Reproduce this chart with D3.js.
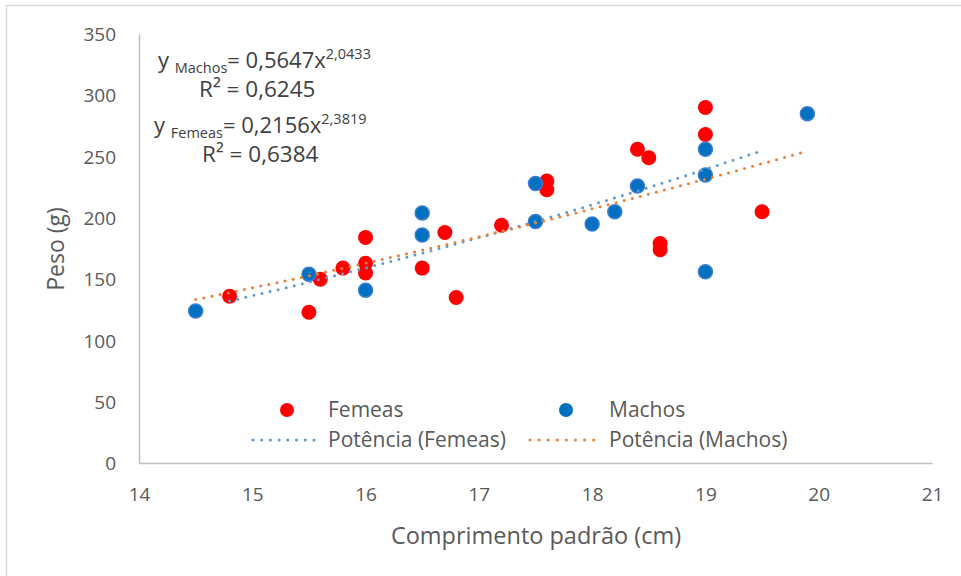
<!DOCTYPE html>
<html><head><meta charset="utf-8">
<script src="https://cdn.jsdelivr.net/npm/d3@7"></script>
<style>body{margin:0;background:#fff}svg{display:block}text{font-family:"Open Sans",sans-serif}</style>
</head><body>
<svg id="c" width="961" height="576"></svg>
<script>
// Data
const femeasX = [14.8,15.5,15.6,15.8,16.0,16.0,16.0,16.5,16.7,16.8,17.2,17.6,17.6,18.4,18.5,18.6,18.6,19.0,19.0,19.5];
const femeasY = [136,123,150,159,184,163,155,159,188,135,194,230,223,256,249,179,174,290,268,205];
const machosX = [14.5,15.5,16.0,16.5,16.5,17.5,17.5,18.0,18.2,18.4,19.0,19.0,19.0,19.9];
const machosY = [124,154,141,204,186,228,197,195,205,226,256,235,156,285];
const xTicks = [14,15,16,17,18,19,20,21];
const yTicks = [0,50,100,150,200,250,300,350];
// Power trendlines y = a x^b (from equations shown)
const trendNames = ["Femeas","Machos"];
const trendA = [0.2156,0.5647];
const trendB = [2.3819,2.0433];
const trendR2 = ["0,6384","0,6245"];

const svg = d3.select("#c");
const x = d3.scaleLinear().domain([14,21]).range([139,932]);
const y = d3.scaleLinear().domain([0,350]).range([463,34]);

// chart border
svg.append("rect").attr("x",6.5).attr("y",5.5).attr("width",1000).attr("height",1000)
  .attr("fill","none").attr("stroke","#d9d9d9").attr("stroke-width",1.5);

// axes
const xAxis = svg.append("g").attr("transform","translate(0,463)")
  .call(d3.axisBottom(x).tickValues(xTicks).tickFormat(d3.format("d")).tickSize(0).tickPadding(25));
const yAxis = svg.append("g").attr("transform","translate(139,0)")
  .call(d3.axisLeft(y).tickValues(yTicks).tickSize(0).tickPadding(23));
[xAxis,yAxis].forEach(g=>{
  g.select(".domain").attr("stroke","#bfbfbf").attr("stroke-width",1.5);
  g.selectAll("text").attr("fill","#595959").style("font-size","19px").style("font-family","Open Sans");
});
yAxis.selectAll("text").attr("dy","0.35em");
xAxis.selectAll("text").attr("dy","0.7em");

// axis titles
svg.append("text").attr("x",536).attr("y",544).attr("text-anchor","middle")
  .attr("fill","#595959").style("font-size","23.5px").text("Comprimento padrão (cm)");
svg.append("text").attr("transform","translate(64,249) rotate(-90)").attr("text-anchor","middle")
  .attr("fill","#595959").style("font-size","23px").text("Peso (g)");

// points: Femeas then Machos
const fem = femeasX.map((v,i)=>({x:v,y:femeasY[i]}));
const mac = machosX.map((v,i)=>({x:v,y:machosY[i]}));
svg.append("g").selectAll("circle").data(fem).join("circle")
  .attr("cx",d=>x(d.x)).attr("cy",d=>y(d.y)).attr("r",7.5).attr("fill","#ff0000");
svg.append("g").selectAll("circle").data(mac).join("circle")
  .attr("cx",d=>x(d.x)).attr("cy",d=>y(d.y)).attr("r",7).attr("fill","#0070c0")
  .attr("stroke","#3d7ccc").attr("stroke-width",1.5);

// trendlines
const trendColors = ["#5b9bd5","#ed7d31"];
const ranges = [d3.extent(femeasX), d3.extent(machosX)];
const line = d3.line().x(d=>x(d[0])).y(d=>y(d[1]));
trendNames.forEach((n,i)=>{
  const [lo,hi] = ranges[i];
  const pts = d3.range(0,101).map(k=>{const xv=lo+(hi-lo)*k/100; return [xv, trendA[i]*Math.pow(xv,trendB[i])];});
  svg.append("path").datum(pts).attr("d",line).attr("fill","none")
    .attr("stroke",trendColors[i]).attr("stroke-width",3).attr("stroke-linecap","round")
    .attr("stroke-dasharray","0 8.3");
});

// equations
function eq(xp, yb, name, a, b, r2, rx){
  const t = svg.append("text").attr("x",xp).attr("y",yb).attr("fill","#404040").style("font-size","22px");
  t.append("tspan").text("y ");
  t.append("tspan").attr("dy",5).style("font-size","14.5px").text(name);
  t.append("tspan").attr("dy",-5).text("= " + a);
  t.append("tspan").attr("dy",-9).style("font-size","14.5px").text(b);
  const r = svg.append("text").attr("x",rx).attr("y",yb+29).attr("fill","#404040").style("font-size","22.5px");
  r.append("tspan").text("R² = " + r2);
}
eq(158,68,"Machos","0,5647x","2,0433",trendR2[1],199);
eq(154,133,"Femeas","0,2156x","2,3819",trendR2[0],202);

// legend
const lg = svg.append("g").style("font-size","21px").attr("fill","#595959");
lg.append("circle").attr("cx",287).attr("cy",410).attr("r",7).attr("fill","#ff0000");
lg.append("text").attr("x",328).attr("y",417).text("Femeas");
lg.append("circle").attr("cx",566).attr("cy",410).attr("r",7).attr("fill","#0070c0");
lg.append("text").attr("x",609).attr("y",417).text("Machos");
lg.append("line").attr("x1",253).attr("x2",314).attr("y1",440).attr("y2",440)
  .attr("stroke",trendColors[0]).attr("stroke-width",3).attr("stroke-linecap","round").attr("stroke-dasharray","0 8.7");
lg.append("text").attr("x",328).attr("y",447).text("Potência (Femeas)");
lg.append("line").attr("x1",530).attr("x2",594).attr("y1",440).attr("y2",440)
  .attr("stroke",trendColors[1]).attr("stroke-width",3).attr("stroke-linecap","round").attr("stroke-dasharray","0 9.1");
lg.append("text").attr("x",609).attr("y",447).text("Potência (Machos)");
</script>
</body></html>
